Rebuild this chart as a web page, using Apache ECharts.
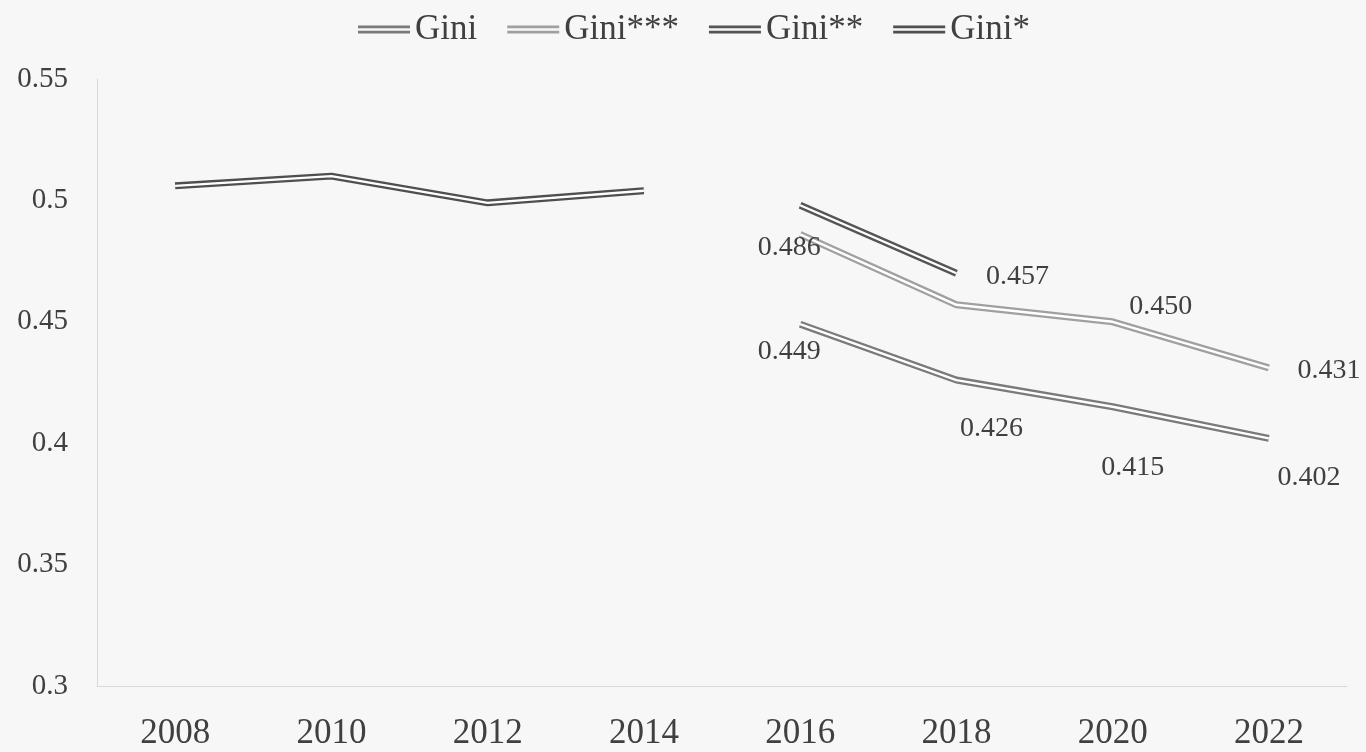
<!DOCTYPE html>
<html>
<head>
<meta charset="utf-8">
<script src="https://cdn.jsdelivr.net/npm/echarts@6/dist/echarts.min.js"></script>
<style>
  html, body { margin: 0; padding: 0; background: #f7f7f7; }
  #chart { width: 1366px; height: 752px; }
</style>
</head>
<body>
<div id="chart"></div>
<script>
const years = ['2008', '2010', '2012', '2014', '2016', '2018', '2020', '2022']
const gini = [null, null, null, null, 0.449, 0.426, 0.415, 0.402]
const gini3 = [null, null, null, null, 0.486, 0.457, 0.450, 0.431]
const gini2 = [null, null, null, null, 0.498, 0.470, null, null]
const gini1 = [0.506, 0.510, 0.499, 0.504, null, null, null, null]

// label nudges (px), like the hand-placed labels in the original
const giniLabelOffsets = [null, null, null, null, [-11, 27], [35, 49], [20, 61], [40, 39]]
const gini3LabelOffsets = [null, null, null, null, [-11, 13], [61, -28], [48, -15], [60, 3]]

const FONT = '"Liberation Serif", "DejaVu Serif", serif'
const TEXT = '#404040'

const withLabels = (values, offsets) => values.map((v, i) => (
  v == null ? null : { value: v, label: { show: true, offset: offsets[i] } }
))

const doubleLine = (name, color, data) => [{
  name: name,
  type: 'line',
  color: color,
  data: data,
  symbol: 'circle',
  symbolSize: 0.1,
  showSymbol: true,
  connectNulls: false,
  lineStyle: { width: 7, color: color },
  label: {
    show: false,
    position: 'inside',
    color: TEXT,
    fontFamily: FONT,
    fontSize: 28,
    formatter: p => p.value.toFixed(3)
  },
  emphasis: { disabled: true },
  z: 2
}, {
  // white core that splits the thick stroke into two thin ones
  name: name,
  type: 'line',
  data: data.map(d => (d == null ? null : (typeof d === 'object' ? d.value : d))),
  symbol: 'none',
  silent: true,
  lineStyle: { width: 2.4, color: '#ffffff' },
  emphasis: { disabled: true },
  z: 2
}]

const legendIcon = 'path://M0,0H52V2.7H0Z M0,5.3H52V8H0Z'

const option = {
  backgroundColor: '#f7f7f7',
  animation: false,
  legend: {
    top: 7,
    left: 353,
    itemWidth: 52,
    itemHeight: 8,
    itemGap: 30,
    textStyle: { fontFamily: FONT, fontSize: 35, color: TEXT },
    data: [
      { name: 'Gini', icon: legendIcon, itemStyle: { color: '#7a7a7a' } },
      { name: 'Gini***', icon: legendIcon, itemStyle: { color: '#a0a0a0' } },
      { name: 'Gini**', icon: legendIcon, itemStyle: { color: '#555555' } },
      { name: 'Gini*', icon: legendIcon, itemStyle: { color: '#4f4f4f' } }
    ]
  },
  grid: {
    left: 97,
    right: 19,
    top: 79,
    bottom: 66
  },
  xAxis: {
    type: 'category',
    boundaryGap: true,
    data: years,
    axisLine: { lineStyle: { color: '#d9d9d9', width: 1 } },
    axisTick: { show: false },
    axisLabel: {
      margin: 30,
      fontFamily: FONT,
      fontSize: 35,
      color: TEXT
    }
  },
  yAxis: {
    type: 'value',
    min: 0.3,
    max: 0.55,
    interval: 0.05,
    axisLine: { show: true, lineStyle: { color: '#d9d9d9', width: 1 } },
    axisTick: { show: false },
    splitLine: { show: false },
    axisLabel: {
      margin: 29,
      fontFamily: FONT,
      fontSize: 29,
      color: TEXT,
      formatter: v => String(parseFloat(v.toFixed(2)))
    }
  },
  series: [
    ...doubleLine('Gini', '#7a7a7a', withLabels(gini, giniLabelOffsets)),
    ...doubleLine('Gini***', '#a0a0a0', withLabels(gini3, gini3LabelOffsets)),
    ...doubleLine('Gini**', '#555555', gini2),
    ...doubleLine('Gini*', '#4f4f4f', gini1)
  ]
}

const chart = echarts.init(document.getElementById('chart'))
chart.setOption(option)
</script>
</body>
</html>
